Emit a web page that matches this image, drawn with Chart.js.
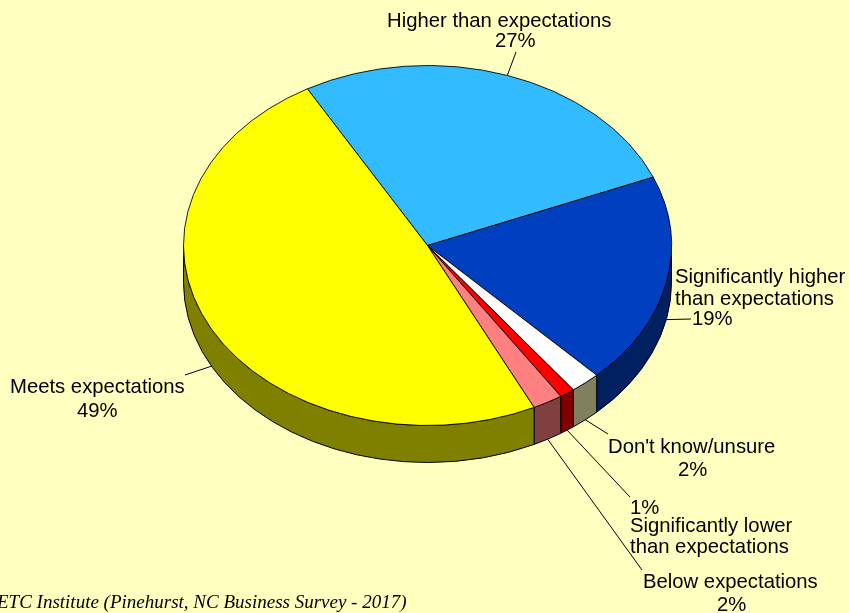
<!DOCTYPE html>
<html>
<head>
<meta charset="utf-8">
<script src="https://cdn.jsdelivr.net/npm/chart.js@4"></script>
<style>
  html, body { margin: 0; padding: 0; background: #FFFFBF; overflow: hidden; }
  #wrap { position: relative; width: 849px; height: 613px; }
</style>
</head>
<body>
<div id="wrap"><canvas id="c"></canvas></div>
<script>
// ---- data ----
const categories = [
  ["Higher than expectations"],
  ["Significantly higher", "than expectations"],
  ["Don't know/unsure"],
  ["Significantly lower", "than expectations"],
  ["Below expectations"],
  ["Meets expectations"]
];
const values = [27, 19, 2, 1, 2, 49];
const percentLabels = ["27%", "19%", "2%", "1%", "2%", "49%"];
const footerText = "ETC Institute (Pinehurst, NC Business Survey - 2017)";

// ---- styles ----
const topColors  = ["#33BBFF", "#0040C0", "#FFFFFF", "#FF0000", "#FF8080", "#FFFF00"];
const sideColors = ["#1A5E80", "#002060", "#80805F", "#800000", "#804040", "#808000"];

// ---- layout (text placement) ----
const labelLayout = [
  { lines: [[387, 27]], pct: [495, 47], end: [516, 52] },
  { lines: [[675, 283], [675, 305]], pct: [692, 325], end: [691, 319] },
  { lines: [[608, 453]], pct: [678, 476], end: [608, 434] },
  { lines: [[630, 532], [630, 553]], pct: [630, 514], end: [630, 497] },
  { lines: [[643, 588]], pct: [717, 611], end: [642, 570] },
  { lines: [[10, 393]], pct: [77, 417], end: [185, 375] }
];
const RY = 180;     // vertical radius of the tilted top face
const DEPTH = 37;   // thickness of the pie

function geom(chart) {
  const el = chart.getDatasetMeta(0).data[0];
  return { cx: el.x, cy: el.y, rx: el.outerRadius, ry: RY };
}

const pie3d = {
  id: 'pie3d',
  beforeDatasetsDraw(chart) {
    const ctx = chart.ctx;
    const { cx, cy, rx, ry } = geom(chart);
    const meta = chart.getDatasetMeta(0);
    ctx.save();
    ctx.lineWidth = 1;
    ctx.strokeStyle = '#000';
    meta.data.forEach((el, i) => {
      const s = el.startAngle, e = el.endAngle;
      for (let k = -1; k <= 1; k++) {
        const a = Math.max(s + 2 * Math.PI * k, 0);
        const b = Math.min(e + 2 * Math.PI * k, Math.PI);
        if (b <= a) continue;
        ctx.beginPath();
        ctx.ellipse(cx, cy, rx, ry, 0, a, b, false);
        ctx.lineTo(cx + rx * Math.cos(b), cy + DEPTH + ry * Math.sin(b));
        ctx.ellipse(cx, cy + DEPTH, rx, ry, 0, b, a, true);
        ctx.closePath();
        ctx.fillStyle = sideColors[i];
        ctx.fill();
        ctx.stroke();
      }
    });
    ctx.restore();
    // squash the top face into an ellipse
    ctx.save();
    ctx.translate(0, cy);
    ctx.scale(1, ry / rx);
    ctx.translate(0, -cy);
  },
  afterDatasetsDraw(chart) {
    chart.ctx.restore();
  },
  afterDraw(chart) {
    const ctx = chart.ctx;
    const { cx, cy, rx, ry } = geom(chart);
    const meta = chart.getDatasetMeta(0);
    ctx.save();
    ctx.fillStyle = '#000';
    ctx.strokeStyle = '#000';
    ctx.lineWidth = 1;
    ctx.font = '20.3px "Liberation Sans", Arial, sans-serif';
    ctx.textBaseline = 'alphabetic';
    ctx.textAlign = 'left';
    meta.data.forEach((el, i) => {
      const mid = (el.startAngle + el.endAngle) / 2;
      const sn = Math.sin(mid);
      const ax = cx + rx * Math.cos(mid);
      const ay = cy + ry * sn + (sn > 0 ? DEPTH : 0);
      const L = labelLayout[i];
      ctx.beginPath();
      ctx.moveTo(ax, ay);
      ctx.lineTo(L.end[0], L.end[1]);
      ctx.stroke();
      categories[i].forEach((t, j) => ctx.fillText(t, L.lines[j][0], L.lines[j][1]));
      ctx.fillText(percentLabels[i], L.pct[0], L.pct[1]);
    });
    ctx.font = 'italic 19px "Liberation Serif", "Times New Roman", serif';
    ctx.fillText(footerText, -3, 608);
    ctx.restore();
  }
};

new Chart(document.getElementById('c'), {
  type: 'pie',
  data: {
    labels: categories,
    datasets: [{
      data: values,
      backgroundColor: topColors,
      borderColor: '#000000',
      borderWidth: 1,
      borderAlign: 'center'
    }]
  },
  options: {
    responsive: true,
    maintainAspectRatio: false,
    animation: false,
    rotation: -29.5,
    layout: { padding: { left: 183, right: 177, top: 0, bottom: 122 } },
    plugins: { legend: { display: false }, tooltip: { enabled: false }, title: { display: false } }
  },
  plugins: [pie3d]
});
</script>
</body>
</html>
